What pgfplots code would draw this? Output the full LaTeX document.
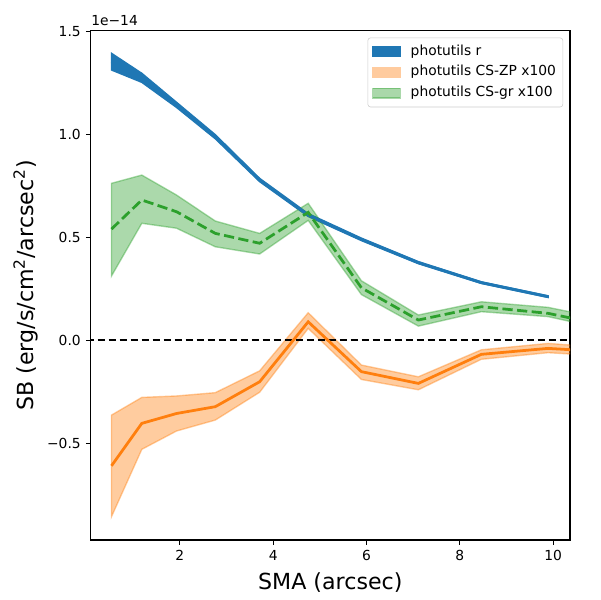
\documentclass[border=0pt]{standalone}
\usepackage{pgfplots}
\pgfplotsset{compat=1.18}
\usepackage{pgfplotstable}
\usepgfplotslibrary{fillbetween}
\usepackage{fontspec}
\setmainfont{DejaVu Sans}
\definecolor{tabblue}{HTML}{1F77B4}
\definecolor{taborange}{HTML}{FF7F0E}
\definecolor{tabgreen}{HTML}{2CA02C}

% values in units of 1e-14 erg/s/cm^2/arcsec^2
\pgfplotstableread{
x c u l
0.535 1.352 1.393 1.312
1.185 1.272 1.296 1.252
1.93 1.142 1.155 1.130
2.76 0.988 0.998 0.978
3.71 0.778 0.786 0.770
4.75 0.608 0.615 0.601
5.89 0.490 0.496 0.484
7.11 0.377 0.382 0.372
8.46 0.280 0.284 0.276
9.89 0.212 0.216 0.208
}\rtab
\pgfplotstableread{
x c u l
0.535 -0.609 -0.363 -0.856
1.185 -0.403 -0.277 -0.529
1.93 -0.355 -0.270 -0.440
2.76 -0.322 -0.254 -0.387
3.71 -0.201 -0.148 -0.252
4.75 0.090 0.134 0.058
5.89 -0.152 -0.120 -0.190
7.11 -0.209 -0.177 -0.240
8.46 -0.068 -0.046 -0.092
9.89 -0.039 -0.015 -0.060
11.4 -0.060 -0.040 -0.080
}\zptab
\pgfplotstableread{
x c u l
0.535 0.540 0.762 0.312
1.185 0.681 0.802 0.568
1.93 0.624 0.705 0.544
2.76 0.519 0.579 0.454
3.71 0.471 0.519 0.419
4.75 0.621 0.665 0.582
5.89 0.255 0.289 0.222
7.11 0.0985 0.123 0.069
8.46 0.163 0.187 0.139
9.89 0.131 0.160 0.115
11.4 0.060 0.090 0.040
}\grtab

\begin{document}
\begin{tikzpicture}
\begin{axis}[
  at={(65.55pt,43.36pt)}, anchor=south west,
  scale only axis, width=346.4pt, height=368.1pt,
  xmin=0.09, xmax=10.36, ymin=-0.969, ymax=1.503,
  xtick={2,4,6,8,10},
  ytick={-0.5,0,0.5,1,1.5},
  yticklabels={−0.5,0.0,0.5,1.0,1.5},
  tick pos=left, tick align=outside,
  major tick length=3.5pt,
  tick style={black, line width=0.8pt},
  axis line style={line width=0.8pt},
  ticklabel style={font=\fontsize{10}{12}\selectfont},
  /pgf/number format/assume math mode=true,
  xticklabel style={inner sep=0pt, yshift=-3.5pt, anchor=north},
  yticklabel style={inner sep=0pt, xshift=-3.5pt, anchor=east},
  legend style={at={(1,1)}, anchor=north east, xshift=-5pt, yshift=-5pt,
    draw=black!20, fill=white, fill opacity=0.8, draw opacity=1, text opacity=1, rounded corners=2pt,
    font=\fontsize{10}{12}\selectfont, inner xsep=3pt, inner ysep=2.5pt,
    row sep=0pt,
    nodes={inner ysep=2.5pt, text height=7.5pt, text depth=2.5pt}},
  legend cell align=left,
]
\addplot[name path=ru, draw=none, forget plot] table[x=x,y=u]{\rtab};
\addplot[name path=rl, draw=none, forget plot] table[x=x,y=l]{\rtab};
\addplot[fill=tabblue, draw=tabblue, line width=1pt,
  area legend, legend image code/.code={\fill[tabblue, fill opacity=1, sharp corners] (0pt,-3.5pt) rectangle (20pt,3.5pt); \path (25pt,0pt);}]
  fill between[of=ru and rl];
\addlegendentry{photutils r}

\addplot[name path=zu, draw=none, forget plot] table[x=x,y=u]{\zptab};
\addplot[name path=zl, draw=none, forget plot] table[x=x,y=l]{\zptab};
\addplot[fill=taborange, fill opacity=0.4, draw=taborange, draw opacity=0.4, line width=1pt,
  area legend, legend image code/.code={\filldraw[sharp corners, fill=taborange, fill opacity=0.4, draw=taborange, draw opacity=0.4, line width=1pt] (0pt,-3.5pt) rectangle (20pt,3.5pt); \path (25pt,0pt);}]
  fill between[of=zu and zl];
\addlegendentry{photutils CS-ZP x100}

\addplot[name path=gu, draw=none, forget plot] table[x=x,y=u]{\grtab};
\addplot[name path=gl, draw=none, forget plot] table[x=x,y=l]{\grtab};
\addplot[fill=tabgreen, fill opacity=0.4, draw=tabgreen, draw opacity=0.4, line width=1pt,
  area legend, legend image code/.code={\filldraw[sharp corners, fill=tabgreen, fill opacity=0.4, draw=tabgreen, draw opacity=0.4, line width=1pt] (0pt,-3.5pt) rectangle (20pt,3.5pt); \path (25pt,0pt);}]
  fill between[of=gu and gl];
\addlegendentry{photutils CS-gr x100}

\addplot[forget plot, black, line width=1.5pt, dash pattern=on 5.55pt off 2.4pt] coordinates {(0,0) (11,0)};

\addplot[forget plot, tabblue, line width=2pt] table[x=x,y=c]{\rtab};
\addplot[forget plot, taborange, line width=2pt] table[x=x,y=c]{\zptab};
\addplot[forget plot, tabgreen, line width=2pt, dash pattern=on 7.4pt off 3.2pt] table[x=x,y=c]{\grtab};
\end{axis}
\node[anchor=base west, inner sep=0pt, font=\fontsize{10}{12}\selectfont] at (65.8pt,415.1pt) {1e−14};
\node[anchor=base, inner sep=0pt, font=\fontsize{16}{19}\selectfont] at (238.7pt,7.73pt) {SMA (arcsec)};
\node[anchor=base, rotate=90, inner sep=0pt, font=\fontsize{16}{19}\selectfont] at (24.2pt,227.4pt) {SB (erg/s/cm\textsuperscript{2}/arcsec\textsuperscript{2})};
\path (0pt,0pt) rectangle (433.6pt,433.6pt);
\end{tikzpicture}
\end{document}
